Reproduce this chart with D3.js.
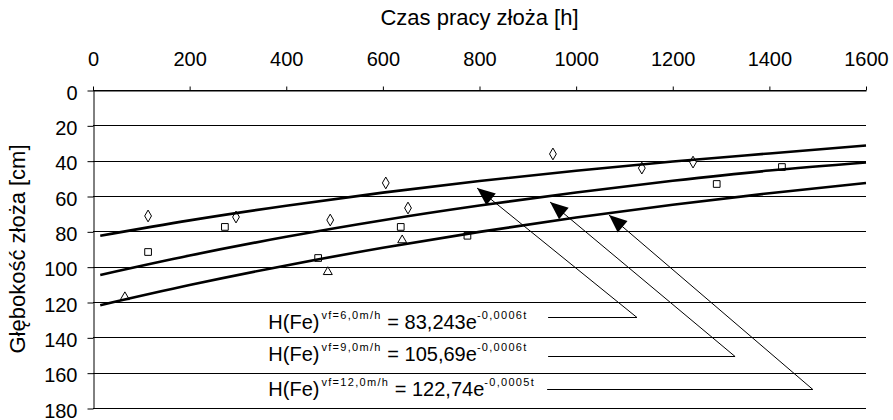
<!DOCTYPE html>
<html>
<head>
<meta charset="utf-8">
<script src="https://cdn.jsdelivr.net/npm/d3@7"></script>
<style>
  body { margin: 0; background: #fff; }
  text { font-family: Arial, "Liberation Sans", sans-serif; fill: #000; }
</style>
</head>
<body>
<script>
// ticks
var timeTicks  = [0, 200, 400, 600, 800, 1000, 1200, 1400, 1600];
var depthTicks = [0, 20, 40, 60, 80, 100, 120, 140, 160, 180];

// measured points, v = 6 m/h (diamonds)
var t6 = [114, 296, 491, 606, 652, 952, 1136, 1242];
var h6 = [71.3, 71.9, 73.6, 52.6, 66.8, 36.2, 44.2, 40.8];
// v = 9 m/h (squares)
var t9 = [114, 273, 466, 637, 775, 1291, 1426];
var h9 = [91.7, 77.5, 95.1, 77.5, 82.5, 53.2, 43.6];
// v = 12 m/h (triangles)
var t12 = [66, 486, 640];
var h12 = [117.2, 103, 85];

// trend lines
var trendT   = [15, 200, 400, 600, 800, 1000, 1200, 1400, 1600];
var trend6   = [82.5, 73.8, 65.5, 58.1, 51.5, 45.7, 40.5, 35.9, 31.4];
var trend9   = [104.7, 93.7, 83.1, 73.7, 65.4, 58.0, 51.4, 45.6, 41.0];
var trend12  = [121.8, 110.4, 99.3, 89.3, 80.3, 72.2, 65.0, 58.4, 52.6];

// equation labels
var eqSub  = ['vf=6,0m/h', 'vf=9,0m/h', 'vf=12,0m/h'];
var eqBase = ['83,243e', '105,69e', '122,74e'];
var eqExp  = ['-0,0006t', '-0,0006t', '-0,0005t'];

// arrows: tip -> elbow -> end (in data units)
var arrowTipT  = [795, 946, 1068];
var arrowTipH  = [55.5, 63.4, 70.8];
var elbowT     = [1126, 1329, 1490];
var elbowH     = [128.5, 150.6, 169.2];
var leaderEndT = [942, 942, 940];
var eqStartT   = [363, 363, 363];
var eqH        = [135.3, 153.4, 173.2];

var width = 893, height = 420;

var x = d3.scaleLinear().domain([0, 1600]).range([93, 866]);
var y = d3.scaleLinear().domain([0, 180]).range([90, 408]);

var svg = d3.select('body').append('svg')
	.attr('width', width)
	.attr('height', height)
	.style('background', '#fff');

// gridlines
svg.append('g')
	.selectAll('line')
	.data(depthTicks)
	.enter().append('line')
		.attr('x1', x(0))
		.attr('x2', x(1600))
		.attr('y1', function(d) { return Math.round(y(d)) + 0.5; })
		.attr('y2', function(d) { return Math.round(y(d)) + 0.5; })
		.attr('stroke', '#000')
		.attr('stroke-width', 1);

// top axis
var xAxis = svg.append('g')
	.attr('transform', 'translate(0,' + (Math.round(y(0)) + 0.5) + ')')
	.call(d3.axisTop(x).tickValues(timeTicks).tickSize(4).tickSizeOuter(0).tickPadding(21).tickFormat(d3.format('d')));
xAxis.selectAll('text').style('font-size', '20px');
xAxis.selectAll('line,path').attr('stroke', '#000');

// left axis
var yAxis = svg.append('g')
	.attr('transform', 'translate(' + (Math.round(x(0)) + 0.5) + ',0)')
	.call(d3.axisLeft(y).tickValues(depthTicks).tickSize(6).tickSizeOuter(0).tickPadding(10));
yAxis.selectAll('text').style('font-size', '20px').attr('dy', '0.45em');
yAxis.selectAll('line,path').attr('stroke', '#000');
yAxis.selectAll('.tick line').attr('transform', 'translate(0,0.5)');

// titles
svg.append('text')
	.attr('x', (x(0) + x(1600)) / 2)
	.attr('y', 25)
	.attr('text-anchor', 'middle')
	.style('font-size', '22px')
	.text('Czas pracy złoża [h]');

svg.append('text')
	.attr('transform', 'translate(25,' + ((y(0) + y(180)) / 2) + ') rotate(-90)')
	.attr('text-anchor', 'middle')
	.style('font-size', '22px')
	.text('Głębokość złoża [cm]');

// points
function drawPoints(ts, hs, sym, size) {
	svg.append('g')
		.selectAll('path')
		.data(ts)
		.enter().append('path')
			.attr('d', d3.symbol().type(sym).size(size))
			.attr('transform', function(d, i) {
				return 'translate(' + x(d) + ',' + y(hs[i]) + ')';
			})
			.attr('fill', '#fff')
			.attr('stroke', '#000')
			.attr('stroke-width', 1);
}
drawPoints(t6, h6, d3.symbolDiamond, 40);
drawPoints(t9, h9, d3.symbolSquare, 45);
drawPoints(t12, h12, d3.symbolTriangle, 35);

// trend lines
var line = d3.line()
	.x(function(d, i) { return x(trendT[i]); })
	.y(function(d) { return y(d); })
	.curve(d3.curveMonotoneX);

[trend6, trend9, trend12].forEach(function(s) {
	svg.append('path')
		.attr('d', line(s))
		.attr('fill', 'none')
		.attr('stroke', '#000')
		.attr('stroke-width', 2.6);
});

// arrows
for (var i = 0; i < arrowTipT.length; i++) {
	var tx = x(arrowTipT[i]), ty = y(arrowTipH[i]);
	var ex = x(elbowT[i]), ey = Math.round(y(elbowH[i])) + 0.5;
	var lx = x(leaderEndT[i]);

	svg.append('path')
		.attr('d', 'M' + lx + ',' + ey + 'L' + ex + ',' + ey + 'L' + tx + ',' + ty)
		.attr('fill', 'none')
		.attr('stroke', '#000')
		.attr('stroke-width', 1);

	var dx = tx - ex, dy = ty - ey;
	var len = Math.sqrt(dx * dx + dy * dy);
	var ux = dx / len, uy = dy / len;
	var hl = 18, hw = 7.5;
	var bx = tx - ux * hl, by = ty - uy * hl;
	svg.append('path')
		.attr('d', 'M' + tx + ',' + ty +
			'L' + (bx - uy * hw) + ',' + (by + ux * hw) +
			'L' + (bx + uy * hw) + ',' + (by - ux * hw) + 'Z')
		.attr('fill', '#000');

	var t = svg.append('text')
		.attr('x', x(eqStartT[i]))
		.attr('y', y(eqH[i]))
		.style('font-size', '20px');
	t.append('tspan').text('H(Fe)');
	t.append('tspan')
		.attr('dy', -10)
		.attr('dx', 2)
		.style('font-size', '11px')
		.style('letter-spacing', '1.3px')
		.text(eqSub[i]);
	t.append('tspan')
		.attr('dy', 10)
		.text(' = ' + eqBase[i]);
	t.append('tspan')
		.attr('dy', -10)
		.style('font-size', '11px')
		.style('letter-spacing', '1.3px')
		.text(eqExp[i]);
}
</script>
</body>
</html>
